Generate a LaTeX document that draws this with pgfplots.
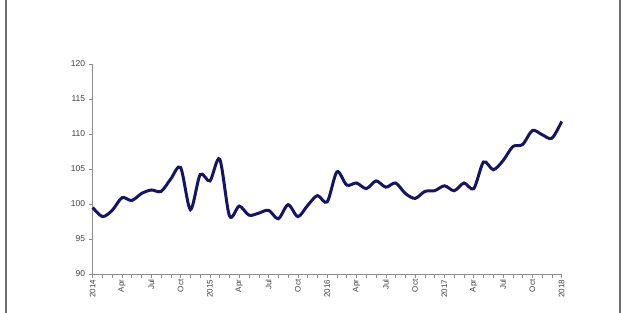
\documentclass[border=0pt]{standalone}
\usepackage{pgfplots}
\pgfplotsset{compat=1.18}
\usepackage{fontspec}
\setmainfont{Liberation Sans}
\definecolor{navy}{HTML}{16165F}
\definecolor{axgray}{HTML}{8C8C8C}
\begin{document}
\begin{tikzpicture}[x=1pt,y=1pt]
\useasboundingbox (0,0) rectangle (626,313);
\fill[white] (0,0) rectangle (626,313);
\draw[axgray!80!black, line width=2pt] (5.5,0) -- (5.5,313);
\draw[axgray!80!black, line width=2pt] (620,0) -- (620,313);
\begin{axis}[
  at={(92.7pt,39pt)}, anchor=south west,
  scale only axis, width=469pt, height=210pt,
  xmin=0, xmax=48, ymin=90, ymax=120,
  axis x line*=bottom, axis y line*=left,
  axis line style={axgray, line width=0.8pt},
  tick style={axgray, line width=0.6pt},
  tick align=outside,
  major tick length=4pt, minor tick length=4pt,
  ytick={90,95,...,120},
  xtick={0,3,...,48},
  minor xtick={0,1,...,48},
  xticklabels={2014,Apr,Jul,Oct,2015,Apr,Jul,Oct,2016,Apr,Jul,Oct,2017,Apr,Jul,Oct,2018},
  xticklabel style={rotate=90, anchor=east, font=\fontsize{8}{9}\selectfont, text=black!75, inner sep=1.5pt},
  yticklabel style={font=\fontsize{8.5}{10}\selectfont, text=black!75},
  /pgf/number format/assume math mode=true,
  clip=false,
]
\addplot[navy, line width=3pt, smooth, tension=0.5] coordinates {
(0,99.5) (1,98.2) (2,99.1) (3,100.9) (4,100.5) (5,101.5) (6,102.0) (7,101.8)
(8,103.6) (9,105.2) (10,99.2) (11,104.2) (12,103.3) (13,106.4) (14,98.3) (15,99.7)
(16,98.4) (17,98.7) (18,99.1) (19,97.9) (20,99.9) (21,98.2) (22,99.8) (23,101.2)
(24,100.3) (25,104.6) (26,102.7) (27,103.0) (28,102.2) (29,103.3) (30,102.4) (31,103.0)
(32,101.5) (33,100.8) (34,101.8) (35,101.9) (36,102.6) (37,101.9) (38,103.0) (39,102.2)
(40,106.0) (41,104.9) (42,106.2) (43,108.2) (44,108.5) (45,110.5) (46,109.9) (47,109.4)
(48,111.8)};
\end{axis}
\end{tikzpicture}
\end{document}
